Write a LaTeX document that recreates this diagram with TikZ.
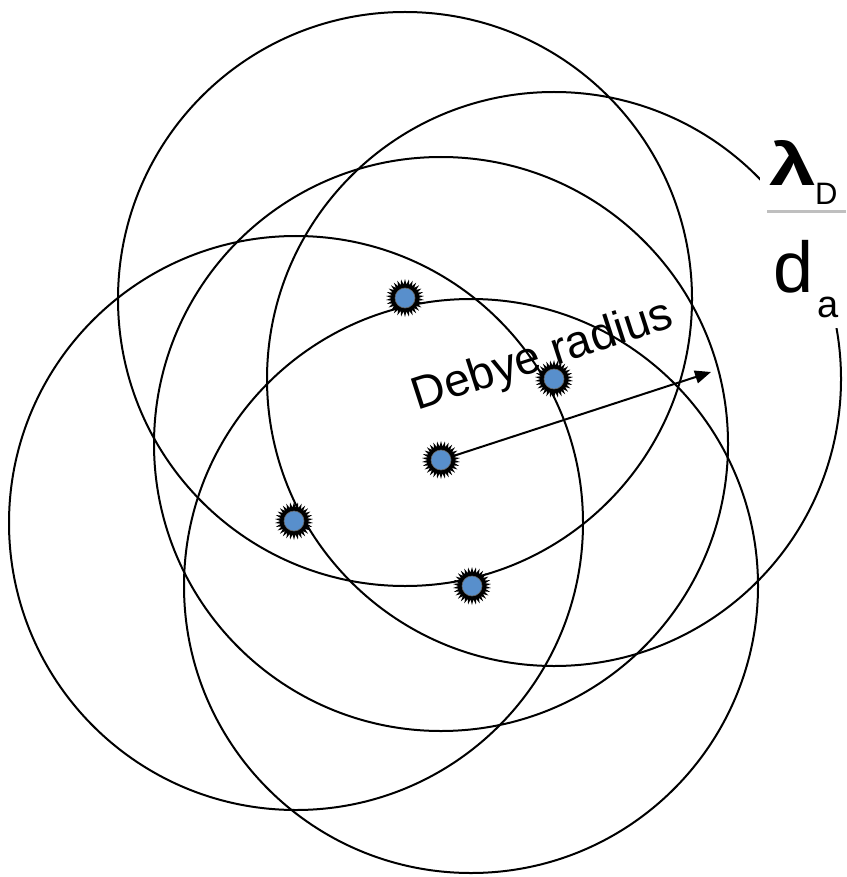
\documentclass[tikz,border=0pt]{standalone}
\usepackage{fontspec}
\setmainfont{Liberation Sans}
\usetikzlibrary{shapes.geometric, arrows.meta}
\definecolor{chargeblue}{RGB}{88,143,204}
\tikzset{
    sphere/.style={draw=black, line width=2pt},
    spikes/.style={star, star points=30, star point ratio=1.4, fill=black, draw=none, minimum size=38pt, inner sep=0pt},
    charge/.style={circle, fill=chargeblue, draw=black!60, line width=0.6pt, minimum size=20pt, inner sep=0pt},
    radiusarrow/.style={draw, line width=2pt, -{Triangle[length=16pt, width=13pt]}},
    ratio/.style={anchor=base west, inner sep=0pt}
}

\begin{document}
\begin{tikzpicture}[x=1pt, y=-1pt]
\useasboundingbox (0,0) rectangle (846,877);

% Debye spheres round each charge
\foreach \n/\x/\y in {1/405/299, 2/554/379, 3/441/444, 4/296/523, 5/471/586}
    \draw[sphere] (\x,\y) circle[radius=287];

% Charges
\foreach \n/\x/\y in {1/405/298, 2/554/379, 3/441/460, 4/294/521, 5/472/586} {
    \node[spikes] (s\n) at (\x,\y) {};
    \node[charge] (q\n) at (\x,\y) {};
}

% Radius
\coordinate (tip) at (711,372);
\draw[radiusarrow] (q3) -- (tip);
\node[rotate=18, font=\fontsize{46}{46}\selectfont] (debye) at (543,357) {Debye radius};

% Ratio lambda_D / d_a
\fill[white] (760,148) rectangle (846,328);
\node[ratio, xscale=1.4, font=\fontsize{60}{60}\selectfont\bfseries] (lam) at (769,186) {λ};
\node[ratio, font=\fontsize{31}{31}\selectfont] (lamsub) at (815,205) {D};
\draw[black!25, line width=3pt] (767,212) -- (846,212);
\node[ratio, font=\fontsize{72}{72}\selectfont] (dist) at (773,292) {d};
\node[ratio, font=\fontsize{38}{38}\selectfont] (distsub) at (817,317) {a};
\end{tikzpicture}
\end{document}
